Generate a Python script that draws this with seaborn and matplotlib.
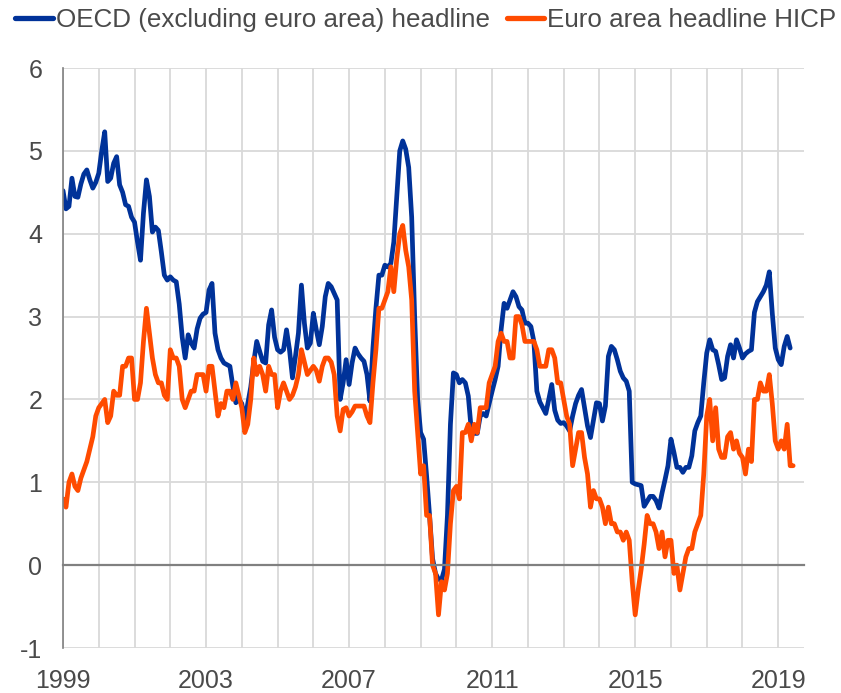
import numpy as np
import pandas as pd
import matplotlib
matplotlib.use("Agg")
import matplotlib.pyplot as plt
import seaborn as sns

# Monthly year-on-year inflation rates (%), starting January 1999
oecd_label = "OECD (excluding euro area) headline"
ea_label = "Euro area headline HICP"

oecd_headline = [
    4.52, 4.30, 4.33, 4.67, 4.45, 4.44, 4.60, 4.72, 4.77, 4.65, 4.55, 4.62,   # 1999
    4.73, 5.00, 5.23, 4.63, 4.67, 4.85, 4.93, 4.59, 4.50, 4.35, 4.33, 4.20,   # 2000
    4.14, 3.90, 3.68, 4.25, 4.65, 4.45, 4.02, 4.08, 4.04, 3.78, 3.50, 3.44,   # 2001
    3.48, 3.44, 3.42, 3.15, 2.75, 2.50, 2.78, 2.68, 2.62, 2.85, 2.98, 3.03,   # 2002
    3.05, 3.32, 3.40, 2.80, 2.60, 2.50, 2.44, 2.42, 2.40, 2.16, 1.96, 2.00,   # 2003
    1.95, 1.75, 1.95, 2.15, 2.45, 2.70, 2.58, 2.46, 2.44, 2.90, 3.08, 2.75,   # 2004
    2.60, 2.57, 2.60, 2.84, 2.60, 2.26, 2.52, 2.80, 3.38, 2.92, 2.62, 2.68,   # 2005
    3.04, 2.84, 2.66, 2.88, 3.24, 3.40, 3.36, 3.28, 3.20, 2.00, 2.20, 2.48,   # 2006
    2.18, 2.44, 2.62, 2.55, 2.50, 2.46, 2.30, 1.98, 2.62, 3.10, 3.50, 3.50,   # 2007
    3.62, 3.60, 3.64, 3.90, 4.45, 5.00, 5.12, 5.02, 4.80, 4.20, 3.00, 2.00,   # 2008
    1.60, 1.52, 1.08, 0.60, 0.08, -0.10, -0.17, -0.18, -0.05, 0.60, 1.70, 2.32,  # 2009
    2.30, 2.20, 2.24, 2.20, 2.04, 1.63, 1.59, 1.59, 1.80, 1.83, 1.80, 1.95,   # 2010
    2.10, 2.24, 2.40, 2.84, 3.16, 3.10, 3.20, 3.30, 3.24, 3.12, 3.08, 2.92,   # 2011
    2.92, 2.88, 2.70, 2.10, 1.97, 1.90, 1.83, 2.00, 2.18, 1.87, 1.75, 1.71,   # 2012
    1.72, 1.68, 1.62, 1.80, 1.95, 2.05, 2.12, 1.90, 1.68, 1.54, 1.75, 1.96,   # 2013
    1.95, 1.74, 1.92, 2.52, 2.64, 2.60, 2.48, 2.34, 2.26, 2.22, 2.10, 1.00,   # 2014
    0.98, 0.97, 0.96, 0.71, 0.77, 0.83, 0.83, 0.78, 0.69, 0.87, 1.03, 1.20,   # 2015
    1.52, 1.36, 1.18, 1.18, 1.12, 1.18, 1.18, 1.32, 1.62, 1.72, 1.80, 2.20,   # 2016
    2.56, 2.72, 2.60, 2.58, 2.42, 2.24, 2.26, 2.52, 2.66, 2.50, 2.72, 2.62,   # 2017
    2.50, 2.55, 2.58, 2.60, 3.05, 3.18, 3.24, 3.30, 3.38, 3.54, 3.04, 2.62,   # 2018
    2.48, 2.42, 2.64, 2.76, 2.62,                                             # 2019
]

ea_hicp = [
    0.80, 0.70, 1.00, 1.10, 0.95, 0.90, 1.05, 1.15, 1.25, 1.40, 1.55, 1.80,   # 1999
    1.90, 1.95, 2.00, 1.72, 1.80, 2.10, 2.05, 2.05, 2.40, 2.40, 2.50, 2.50,   # 2000
    2.00, 2.00, 2.20, 2.70, 3.10, 2.80, 2.50, 2.30, 2.20, 2.20, 2.05, 2.00,   # 2001
    2.60, 2.50, 2.50, 2.40, 2.00, 1.90, 2.00, 2.10, 2.10, 2.30, 2.30, 2.30,   # 2002
    2.10, 2.40, 2.40, 2.10, 1.80, 1.95, 1.90, 2.10, 2.10, 2.00, 2.20, 2.05,   # 2003
    1.90, 1.60, 1.70, 2.00, 2.50, 2.30, 2.40, 2.30, 2.10, 2.40, 2.30, 2.30,   # 2004
    1.90, 2.10, 2.20, 2.10, 2.00, 2.05, 2.15, 2.30, 2.60, 2.45, 2.30, 2.35,   # 2005
    2.40, 2.35, 2.22, 2.40, 2.50, 2.50, 2.45, 2.30, 1.80, 1.62, 1.88, 1.90,   # 2006
    1.80, 1.85, 1.92, 1.92, 1.92, 1.92, 1.80, 1.72, 2.20, 2.60, 3.10, 3.10,   # 2007
    3.20, 3.30, 3.60, 3.30, 3.70, 4.00, 4.10, 3.80, 3.60, 3.20, 2.10, 1.60,   # 2008
    1.10, 1.20, 0.60, 0.60, 0.00, -0.10, -0.60, -0.20, -0.30, -0.10, 0.50, 0.90,  # 2009
    0.95, 0.80, 1.60, 1.60, 1.70, 1.50, 1.70, 1.60, 1.90, 1.90, 1.90, 2.20,   # 2010
    2.30, 2.40, 2.70, 2.80, 2.70, 2.70, 2.50, 2.50, 3.00, 3.00, 2.90, 2.70,   # 2011
    2.70, 2.70, 2.70, 2.60, 2.40, 2.40, 2.40, 2.60, 2.60, 2.50, 2.20, 2.20,   # 2012
    2.00, 1.80, 1.70, 1.20, 1.40, 1.60, 1.60, 1.30, 1.10, 0.70, 0.90, 0.80,   # 2013
    0.80, 0.70, 0.50, 0.70, 0.50, 0.50, 0.40, 0.40, 0.30, 0.40, 0.30, -0.20,  # 2014
    -0.60, -0.30, -0.05, 0.25, 0.60, 0.50, 0.50, 0.40, 0.20, 0.40, 0.10, 0.30,  # 2015
    0.30, -0.10, 0.00, -0.30, -0.10, 0.10, 0.20, 0.20, 0.40, 0.50, 0.60, 1.10,  # 2016
    1.80, 2.00, 1.50, 1.90, 1.40, 1.30, 1.30, 1.55, 1.60, 1.40, 1.50, 1.35,   # 2017
    1.30, 1.10, 1.40, 1.25, 2.00, 2.00, 2.20, 2.10, 2.10, 2.30, 1.95, 1.50,   # 2018
    1.40, 1.50, 1.40, 1.70, 1.20, 1.20,                                       # 2019
]

year_ticks = [1999, 2003, 2007, 2011, 2015, 2019]
y_ticks = [-1, 0, 1, 2, 3, 4, 5, 6]

BLUE = "#003299"
ORANGE = "#FF4B00"
GRID = "#d9d9d9"
AXIS = "#808080"
TEXT = "#4a4a4a"
FS_TICK = 18
FS_LEGEND = 18.7


def monthly_frame(values, label):
    dates = pd.date_range("1999-01-01", periods=len(values), freq="MS")
    t = dates.year + (dates.month - 1) / 12.0
    return pd.DataFrame({"t": t, "value": values, "series": label})


df = pd.concat([monthly_frame(oecd_headline, oecd_label),
                monthly_frame(ea_hicp, ea_label)], ignore_index=True)

sns.set_style("white")
plt.rcParams["font.family"] = ["Liberation Sans", "DejaVu Sans"]
plt.rcParams["axes.unicode_minus"] = False

fig = plt.figure(figsize=(8.41, 6.93), dpi=100)
ax = fig.add_axes([63 / 841, 45 / 693, 741 / 841, 580 / 693])

sns.lineplot(data=df, x="t", y="value", hue="series",
             hue_order=[oecd_label, ea_label], palette=[BLUE, ORANGE],
             linewidth=3.4, ax=ax, legend=True)

ax.set_xlim(1999, 2019.72)
ax.set_ylim(-1, 6)
ax.set_xlabel("")
ax.set_ylabel("")

# grid: every year vertically, every unit horizontally
ax.set_xticks(year_ticks)
ax.set_xticks(np.arange(1999, 2020), minor=True)
ax.set_yticks(y_ticks)
ax.grid(which="both", axis="x", color=GRID, linewidth=1.3)
ax.grid(which="major", axis="y", color=GRID, linewidth=1.3)
ax.set_axisbelow(True)

for side in ("top", "right"):
    ax.spines[side].set_visible(False)
ax.spines["left"].set_color(AXIS)
ax.spines["left"].set_linewidth(1.2)
ax.spines["bottom"].set_position(("data", 0))
ax.spines["bottom"].set_color(AXIS)
ax.spines["bottom"].set_linewidth(1.6)

ax.tick_params(axis="y", direction="in", length=6, width=1.1, color=AXIS,
               pad=15, labelsize=FS_TICK, labelcolor=TEXT)
ax.tick_params(axis="x", which="major", direction="out", length=5.5,
               width=1.1, color=AXIS, labelbottom=False)
ax.tick_params(axis="x", which="minor", length=0)

# year labels along the bottom edge of the plot
sec = ax.secondary_xaxis("bottom")
sec.set_xticks(year_ticks)
sec.set_xticklabels([str(y) for y in year_ticks])
sec.tick_params(length=0, pad=15, labelsize=FS_TICK, labelcolor=TEXT)
sec.spines["bottom"].set_visible(False)

sns.move_legend(ax, "upper left", bbox_to_anchor=(15 / 841, 0.989),
                bbox_transform=fig.transFigure, ncol=2, frameon=False,
                title=None, fontsize=FS_LEGEND, handlelength=1.45,
                handletextpad=0.12, columnspacing=0.65,
                borderpad=0, borderaxespad=0)
leg = ax.get_legend()
for txt in leg.get_texts():
    txt.set_color(TEXT)
for line in leg.get_lines():
    line.set_linewidth(3.8)

fig.savefig("out.png", dpi=100)
